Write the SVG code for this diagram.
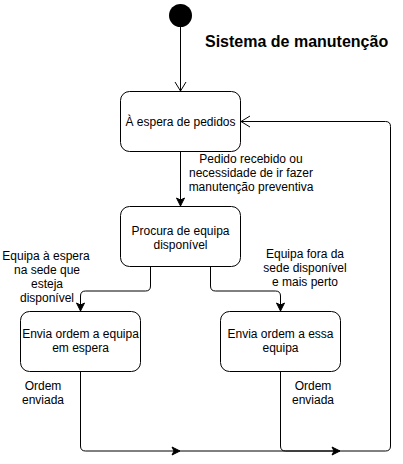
<svg xmlns="http://www.w3.org/2000/svg" width="403" height="464" viewBox="0 0 403 464">
<style>
.node rect{fill:#fff;stroke:#000;stroke-width:1}
.edge{fill:none;stroke:#000;stroke-width:1}
text{font-family:"Liberation Sans",Arial,Helvetica,sans-serif;font-size:12px;fill:#000}
.c{text-anchor:middle}
.title{font-size:16px;font-weight:bold}
</style>
<defs>
<marker id="block" markerUnits="userSpaceOnUse" viewBox="-9 -5 10 10" refX="0" refY="0" markerWidth="10" markerHeight="10" orient="auto">
<path d="M-8,-4 L0,0 L-8,4 L-6,0 Z" fill="#000" stroke="#000" stroke-width="1"/>
</marker>
<marker id="open" markerUnits="userSpaceOnUse" viewBox="-11 -7 13 14" refX="0" refY="0" markerWidth="13" markerHeight="14" orient="auto">
<path d="M-9,-5.5 L0,0 L-9,5.5" fill="none" stroke="#000" stroke-width="1"/>
</marker>
</defs>
<rect width="403" height="464" fill="#fff"/>
<g id="connectors">
<path class="edge" d="M180.5,27 L180.5,91" marker-end="url(#open)"/>
<path class="edge" d="M180.5,151.5 L180.5,206" marker-end="url(#block)"/>
<path class="edge" d="M150.5,266.5 L150.5,286 Q150.5,291 145.5,291 L85.5,291 Q80.5,291 80.5,296 L80.5,311" marker-end="url(#block)"/>
<path class="edge" d="M210.5,266.5 L210.5,286 Q210.5,291 215.5,291 L275.5,291 Q280.5,291 280.5,296 L280.5,311" marker-end="url(#block)"/>
<path class="edge" d="M80.5,371.5 L80.5,446 Q80.5,451 85.5,451 L180,451" marker-end="url(#block)"/>
<path class="edge" d="M280.5,371.5 L280.5,446 Q280.5,451 285.5,451 L340,451" marker-end="url(#block)"/>
<path class="edge" d="M180,451 L385.5,451 Q390.5,451 390.5,446 L390.5,126.5 Q390.5,121.5 385.5,121.5 L241,121.5" marker-end="url(#open)"/>
<text class="c" x="251" y="163">Pedido recebido ou</text>
<text class="c" x="251" y="177">necessidade de ir fazer</text>
<text class="c" x="251" y="191">manutenção preventiva</text>
<text class="c" x="46" y="259.5">Equipa à espera</text>
<text class="c" x="47" y="273.5">na sede que</text>
<text class="c" x="47" y="287.5">esteja</text>
<text class="c" x="47" y="301.5">disponível</text>
<text class="c" x="305" y="258">Equipa fora da</text>
<text class="c" x="305" y="272">sede disponível</text>
<text class="c" x="305" y="286">e mais perto</text>
<text class="c" x="43" y="390">Ordem</text>
<text class="c" x="43" y="404">enviada</text>
<text class="c" x="313" y="390">Ordem</text>
<text class="c" x="313" y="404">enviada</text>
</g>
<g id="start">
<circle cx="180.5" cy="15.5" r="11.5" fill="#000"/>
</g>
<g id="title">
<text class="title" x="205" y="47">Sistema de manutenção</text>
</g>
<g id="n1" class="node">
<rect x="120.5" y="91.5" width="120" height="60" rx="9"/>
<text class="c" x="180.5" y="126">À espera de pedidos</text>
</g>
<g id="n2" class="node">
<rect x="120.5" y="206.5" width="120" height="60" rx="9"/>
<text class="c" x="180.5" y="235">Procura de equipa</text>
<text class="c" x="180.5" y="249">disponível</text>
</g>
<g id="n3" class="node">
<rect x="20.5" y="311.5" width="120" height="60" rx="9"/>
<text class="c" x="80.5" y="338">Envia ordem a equipa</text>
<text class="c" x="80.5" y="352">em espera</text>
</g>
<g id="n4" class="node">
<rect x="220.5" y="311.5" width="120" height="60" rx="9"/>
<text class="c" x="280.5" y="338">Envia ordem a essa</text>
<text class="c" x="280.5" y="352">equipa</text>
</g>
</svg>
